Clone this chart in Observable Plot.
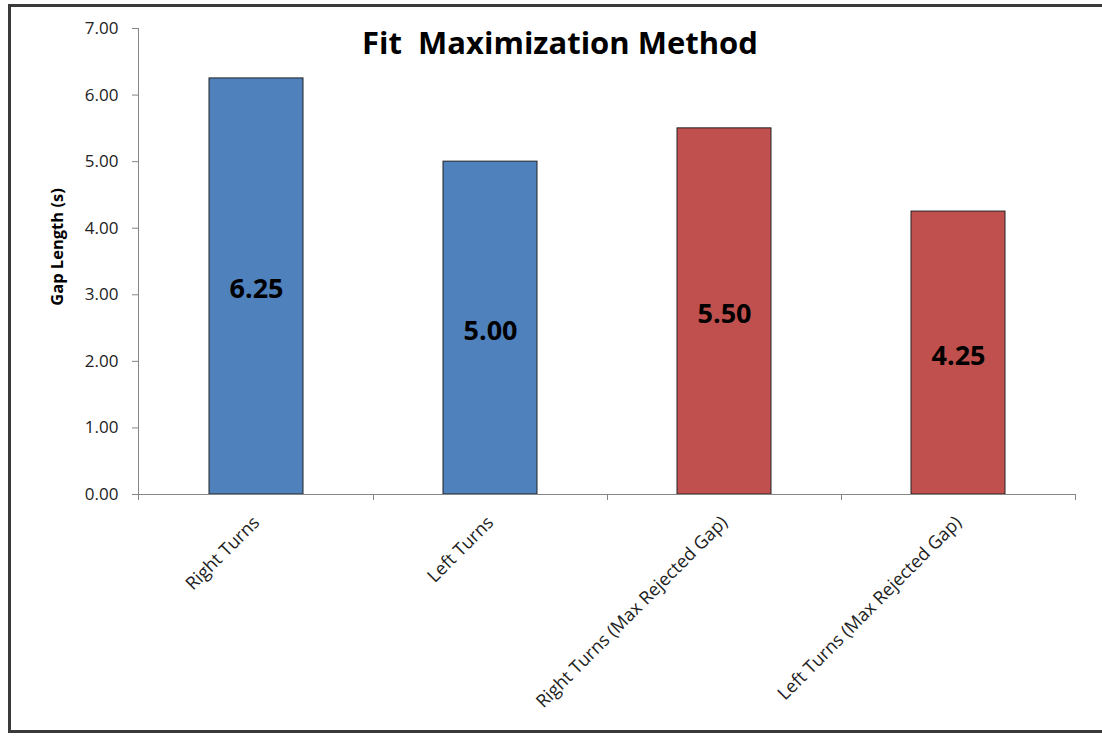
<!DOCTYPE html>
<html>
<head>
<meta charset="utf-8">
<script src="https://cdn.jsdelivr.net/npm/d3@7"></script>
<script src="https://cdn.jsdelivr.net/npm/@observablehq/plot@0.6"></script>
<style>
  html, body { margin: 0; padding: 0; background: #fff; overflow: hidden; }
  #wrap { position: relative; width: 1102px; height: 738px; font-family: 'Open Sans', Lato, sans-serif; }
  #border { position: absolute; left: 8px; top: 4px; width: 1200px; height: 729px; border: 3px solid #3a3a3a; box-sizing: border-box; }
  #chart { position: absolute; left: 0; top: 0; }
  #ylabel { position: absolute; left: 57px; top: 247px; transform: translate(-50%, -50%) rotate(-90deg);
            white-space: nowrap; font-weight: bold; font-size: 16.5px; color: #000; line-height: 1; }
</style>
</head>
<body>
<div id="wrap"><div id="border"></div><div id="chart"></div><div id="ylabel"></div></div>
<script>
const categories = ["Right Turns", "Left Turns", "Right Turns (Max Rejected Gap)", "Left Turns (Max Rejected Gap)"];
const values = [6.25, 5.00, 5.50, 4.25];
const groups = ["base", "base", "max", "max"];
const yTicks = [0, 1, 2, 3, 4, 5, 6, 7];
const titleText = "Fit\u00a0\u00a0Maximization Method";
const yLabel = "Gap Length (s)";

const data = categories.map((c, i) => ({category: c, value: values[i], group: groups[i]}));
const font = "'Open Sans', Lato, sans-serif";
const axisColor = "#868686";

const boundaryTicks = (index, scales, values, dims) => {
  const x = scales.x, y = scales.y;
  const bw = typeof x.bandwidth === "function" ? x.bandwidth() : x.bandwidth;
  const step = typeof x.step === "function" ? x.step() : x.step;
  const g = d3.create("svg:g").attr("stroke", axisColor).attr("stroke-width", 1);
  const y0 = y(0);
  categories.forEach(c => {
    const xb = x(c) + bw / 2 + step / 2;
    g.append("line").attr("x1", Math.round(xb) + 0.5).attr("x2", Math.round(xb) + 0.5)
      .attr("y1", y0).attr("y2", y0 + 6);
  });
  g.append("line").attr("x1", dims.marginLeft + 0.5).attr("x2", dims.marginLeft + 0.5)
    .attr("y1", y0).attr("y2", y0 + 6);
  return g.node();
};

const plot = Plot.plot({
  width: 1102,
  height: 738,
  marginLeft: 138,
  marginRight: 27,
  marginTop: 28,
  marginBottom: 244,
  style: {fontFamily: font, background: "transparent", overflow: "visible"},
  x: {domain: categories, paddingInner: 0.6, paddingOuter: 0.3, label: null},
  y: {domain: [0, 7], label: null},
  color: {domain: ["base", "max"], range: ["#4F81BD", "#C0504D"]},
  marks: [
    Plot.barY(data, {x: "category", y: "value", fill: "group", stroke: "#222", strokeWidth: 1}),
    Plot.frame({anchor: "left", stroke: axisColor}),
    Plot.frame({anchor: "bottom", stroke: axisColor}),
    boundaryTicks,
    Plot.axisY({ticks: yTicks, tickFormat: d => d.toFixed(2), tickSize: 6, tickPadding: 14,
      stroke: axisColor, fill: "#222", fontSize: 17, label: null}),
    Plot.axisX({tickSize: 0, tickRotate: -45, tickPadding: 25, fontSize: 18, fill: "#222", label: null}),
    Plot.text(data, {x: "category", y: d => d.value / 2, text: d => d.value.toFixed(2), dy: 3,
      fontSize: 27, fontWeight: "bold", fill: "#000"}),
    Plot.text([titleText], {frameAnchor: "top", text: d => d, dx: -47, dy: 3, lineAnchor: "top",
      fontSize: 31, fontWeight: "bold", fill: "#000"})
  ]
});
document.getElementById("chart").appendChild(plot);
document.getElementById("ylabel").textContent = yLabel;
</script>
</body>
</html>
